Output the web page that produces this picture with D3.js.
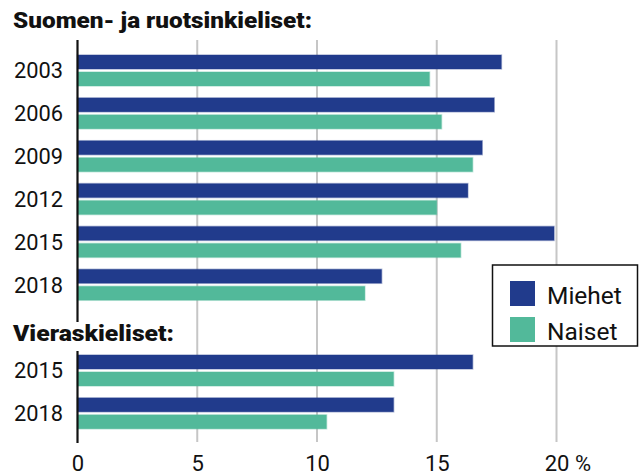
<!DOCTYPE html>
<html><head><meta charset="utf-8">
<script src="https://cdn.jsdelivr.net/npm/d3@7"></script>
<style>body{margin:0;background:#fff}svg{display:block}text{font-family:Roboto,"Noto Sans",sans-serif;fill:#111}</style>
</head><body>
<svg id="c" width="639" height="475"></svg>
<script>
const series = ["Miehet", "Naiset"];
const colors = ["#213b8c", "#52b99a"];
const rowKeys = ["s2003","s2006","s2009","s2012","s2015","s2018","hdr","v2015","v2018"];
const rowLabels = ["2003","2006","2009","2012","2015","2018","","2015","2018"];
const miehet = [17.7, 17.4, 16.9, 16.3, 19.9, 12.7, null, 16.5, 13.2];
const naiset = [14.7, 15.2, 16.5, 15.0, 16.0, 12.0, null, 13.2, 10.4];
const groupTitles = ["Suomen- ja ruotsinkieliset:", "Vieraskieliset:"];
const tickVals = [0, 5, 10, 15, 20];
const tickLabels = ["0", "5", "10", "15", "20"];

const svg = d3.select("#c");
const x = d3.scaleLinear().domain([0, 20]).range([77.5, 556.5]);
const y = d3.scaleBand().domain(rowKeys).range([49, 434.7]);
const inner = d3.scaleBand().domain(series).range([6, 37]).paddingInner(0.176);

// gridlines
svg.append("g").selectAll("line").data(tickVals.filter(d => d > 0)).join("line")
  .attr("x1", d => x(d)).attr("x2", d => x(d)).attr("y1", 40).attr("y2", 442)
  .attr("stroke", "#c6c6c6").attr("stroke-width", 2);

// bars
const data = [];
rowKeys.forEach((k, i) => {
  if (miehet[i] != null) data.push({row: k, s: "Miehet", v: miehet[i], c: colors[0]});
  if (naiset[i] != null) data.push({row: k, s: "Naiset", v: naiset[i], c: colors[1]});
});
svg.append("g").selectAll("rect").data(data).join("rect")
  .attr("x", x(0)).attr("y", d => y(d.row) + inner(d.s))
  .attr("width", d => x(d.v) - x(0)).attr("height", inner.bandwidth())
  .attr("fill", d => d.c).attr("stroke", d => d.c).attr("stroke-opacity", 0.35).attr("stroke-width", 1.5);

// axis lines (two panels)
svg.append("line").attr("x1", x(0)).attr("x2", x(0)).attr("y1", 40).attr("y2", 322)
  .attr("stroke", "#111").attr("stroke-width", 2.2);
svg.append("line").attr("x1", x(0)).attr("x2", x(0)).attr("y1", 351).attr("y2", 443)
  .attr("stroke", "#111").attr("stroke-width", 2.2);

// year labels
svg.append("g").selectAll("text").data(rowKeys.filter((k, i) => rowLabels[i] !== "")).join("text")
  .attr("x", 63).attr("y", d => y(d) + y.bandwidth() / 2 + 8)
  .attr("text-anchor", "end").attr("font-size", 22.5)
  .attr("textLength", 49).attr("lengthAdjust", "spacingAndGlyphs")
  .text(d => rowLabels[rowKeys.indexOf(d)]);

// group titles
svg.append("text").attr("x", 13).attr("y", 28).attr("font-size", 22).attr("font-weight", 900)
  .attr("textLength", 299).attr("lengthAdjust", "spacingAndGlyphs").text(groupTitles[0]);
svg.append("text").attr("x", 13).attr("y", 341).attr("font-size", 22).attr("font-weight", 900)
  .attr("textLength", 161).attr("lengthAdjust", "spacingAndGlyphs").text(groupTitles[1]);

// x axis tick labels
const axis = d3.axisBottom(x).tickValues(tickVals).tickFormat((d, i) => tickLabels[i]).tickSize(0).tickPadding(0);
const ag = svg.append("g").attr("transform", "translate(0,455)").call(axis);
ag.select(".domain").remove();
ag.selectAll("text").attr("font-size", 22).attr("fill", "#111")
  .style("font-family", "Roboto, sans-serif").attr("dy", "0.71em");
ag.selectAll(".tick").filter(d => d === 20).append("text")
  .attr("x", 18).attr("dy", "0.71em").attr("text-anchor", "start").attr("font-size", 22)
  .attr("fill", "#111").style("font-family", "Roboto, sans-serif").text("%");

// legend
const lg = svg.append("g");
lg.append("rect").attr("x", 492.5).attr("y", 265).attr("width", 145).attr("height", 81)
  .attr("fill", "#fff").attr("stroke", "#111").attr("stroke-width", 1.5);
series.forEach((s, i) => {
  lg.append("rect").attr("x", 510).attr("y", 281 + i * 36).attr("width", 25).attr("height", 25).attr("fill", colors[i]);
  lg.append("text").attr("x", 547).attr("y", 304 + i * 36).attr("font-size", 24.5).text(s);
});
</script>
</body></html>
